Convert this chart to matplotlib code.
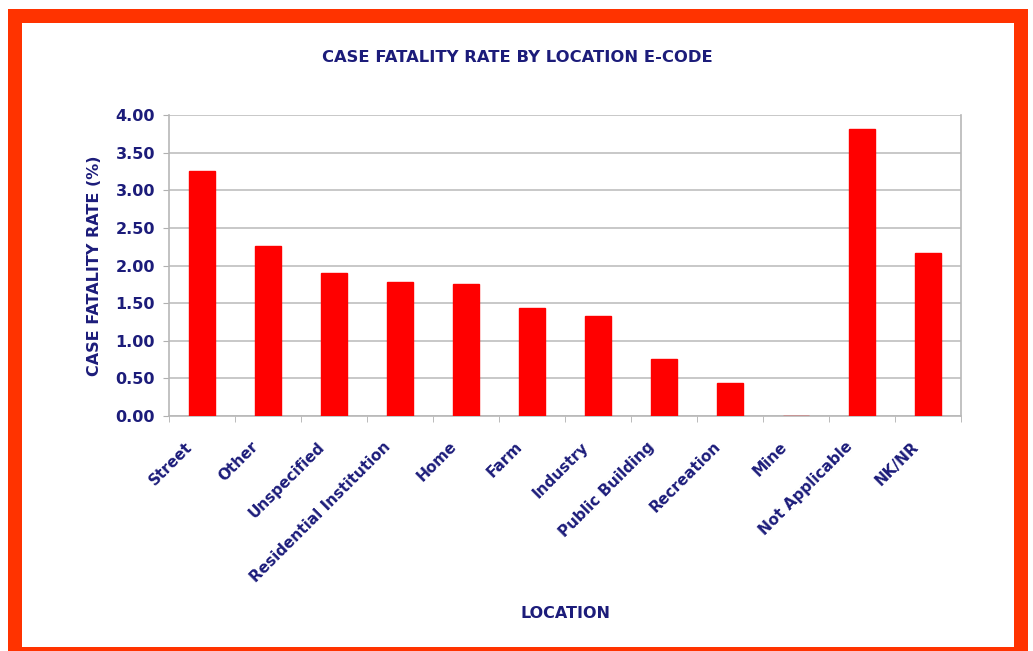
import matplotlib
matplotlib.use("Agg")
import matplotlib.pyplot as plt
from matplotlib.patches import Rectangle
import matplotlib.transforms as mtransforms
import numpy as np

plt.rcParams['font.family'] = ['DejaVu Sans']

categories = ["Street", "Other", "Unspecified", "Residential Institution", "Home", "Farm",
              "Industry", "Public Building", "Recreation", "Mine", "Not Applicable", "NK/NR"]
values = [3.26, 2.26, 1.90, 1.78, 1.75, 1.43, 1.33, 0.76, 0.44, 0.0, 3.81, 2.16]
yticks = [0.0, 0.5, 1.0, 1.5, 2.0, 2.5, 3.0, 3.5, 4.0]

W, H = 1033, 651
fig = plt.figure(figsize=(W/100, H/100), dpi=100)
fig.patch.set_facecolor("white")

# red frame
red = "#ff3300"
fig.patches.append(Rectangle((8/W, 0), (1028-8)/W, (651-9)/H, transform=fig.transFigure,
                             facecolor=red, edgecolor="none", zorder=-2))
fig.patches.append(Rectangle((22/W, (651-647)/H), (1014-22)/W, (647-23)/H, transform=fig.transFigure,
                             facecolor="white", edgecolor="none", zorder=-1))

navy = "#1c1c7a"
left, right, top, bottom = 169, 961, 115, 416
ax = fig.add_axes([left/W, 1-bottom/H, (right-left)/W, (bottom-top)/H])
ax.set_zorder(5)
ax.set_facecolor("none")

x = np.arange(len(categories))
ax.bar(x, values, width=0.38, color="#ff0000", edgecolor="#ff0000", zorder=3)
ax.set_xlim(-0.5, len(categories)-0.5)
ax.set_ylim(0, 4.0)
ax.set_yticks(yticks)
ax.set_yticklabels([f"{v:.2f}" for v in yticks], fontsize=11.5, fontweight="bold", color=navy)
ax.grid(axis="y", color="#c4c4c4", linewidth=1.3, zorder=0)
ax.set_axisbelow(True)

ax.set_xticks(x)
ax.set_xticklabels([])
ax.set_xticks(np.arange(-0.5, len(categories)), minor=True)
ax.tick_params(axis="x", which="major", length=0)
ax.tick_params(axis="x", which="minor", length=4, color="#b0b0b0", direction="out")
ax.tick_params(axis="y", length=4, color="#b0b0b0", pad=6)

offset = mtransforms.ScaledTranslation(-17/100, -23/100, fig.dpi_scale_trans)
trans = ax.get_xaxis_transform() + offset
for xi, cat in zip(x, categories):
    ax.text(xi, 0, cat, transform=trans, rotation=45, ha="right", va="top",
            rotation_mode="anchor", fontsize=11, fontweight="bold", color=navy,
            clip_on=False)

for s in ["left", "bottom", "right"]:
    ax.spines[s].set_color("#b8b8b8")
    ax.spines[s].set_linewidth(1.2)
ax.spines["top"].set_visible(False)

ax.set_ylabel("CASE FATALITY RATE (%)", fontsize=11.5, fontweight="bold", color=navy, labelpad=10)
fig.text(565/W, 1-613/H, "LOCATION", ha="center", va="center", fontsize=11.5,
         fontweight="bold", color=navy)
fig.text(517/W, 1-57/H, "CASE FATALITY RATE BY LOCATION E-CODE", ha="center", va="center",
         fontsize=11.8, fontweight="bold", color=navy)

fig.savefig("out.png", dpi=100, facecolor="white")
